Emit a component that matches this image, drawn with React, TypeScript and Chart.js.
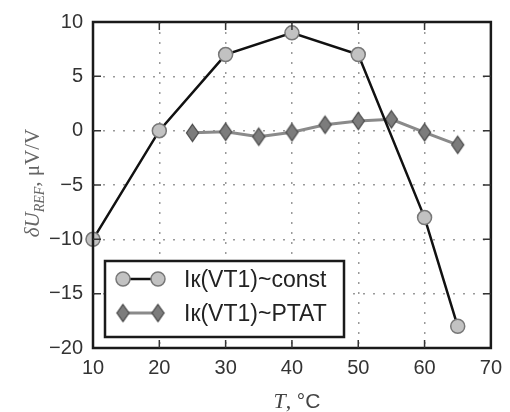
import React, { useEffect, useRef } from "react";
import { Chart, registerables } from "chart.js";

Chart.register(...registerables);

// ---- data ----
const constTemps = [10, 20, 30, 40, 50, 60, 65];
const constValues = [-10, 0, 7, 9, 7, -8, -18];
const ptatTemps = [25, 30, 35, 40, 45, 50, 55, 60, 65];
const ptatValues = [-0.2, -0.1, -0.55, -0.15, 0.55, 0.9, 1.05, -0.15, -1.3];
const xTickValues = [10, 20, 30, 40, 50, 60, 70];
const yTickValues = [-20, -15, -10, -5, 0, 5, 10];
const seriesLabels = ["Iк(VT1)~const", "Iк(VT1)~PTAT"];

const SANS = '"Liberation Sans", Arial, sans-serif';
const SERIF = '"Liberation Serif", "Times New Roman", serif';

const CIRCLE_FILL = "#c2c2c2";
const CIRCLE_EDGE = "#777";
const DIAMOND_FILL = "#7c7c7c";
const DIAMOND_EDGE = "#4c4c4c";

function makeDiamond(w: number, h: number, fill: string, stroke: string, lw: number) {
  const c = document.createElement("canvas");
  c.width = Math.ceil(w + lw * 2 + 2);
  c.height = Math.ceil(h + lw * 2 + 2);
  const ctx = c.getContext("2d")!;
  const cx = c.width / 2;
  const cy = c.height / 2;
  ctx.beginPath();
  ctx.moveTo(cx, cy - h / 2);
  ctx.lineTo(cx + w / 2, cy);
  ctx.lineTo(cx, cy + h / 2);
  ctx.lineTo(cx - w / 2, cy);
  ctx.closePath();
  ctx.fillStyle = fill;
  ctx.fill();
  ctx.lineWidth = lw;
  ctx.strokeStyle = stroke;
  ctx.stroke();
  return c;
}

const fmt = (v: number | string) => String(v).replace("-", "\u2212");

export default function App() {
  const ref = useRef<HTMLCanvasElement>(null);

  useEffect(() => {
    const diamond = makeDiamond(12, 17, DIAMOND_FILL, DIAMOND_EDGE, 1.3);

    const framePlugin = {
      id: "frameAndExtras",
      afterDraw(chart: any) {
        const ctx = chart.ctx as CanvasRenderingContext2D;
        const { left, right, top, bottom } = chart.chartArea;
        const xs = chart.scales.x;
        const ys = chart.scales.y;

        // legend
        ctx.save();
        const lx = 105, ly = 261, lw = 239, lh = 76;
        ctx.fillStyle = "#fff";
        ctx.fillRect(lx, ly, lw, lh);
        ctx.lineWidth = 2.5;
        ctx.strokeStyle = "#1a1a1a";
        ctx.strokeRect(lx, ly, lw, lh);
        const rows = [279, 313];
        const sx1 = 123, sx2 = 158;
        // row 1
        ctx.beginPath();
        ctx.moveTo(sx1, rows[0]);
        ctx.lineTo(sx2, rows[0]);
        ctx.strokeStyle = "#111";
        ctx.lineWidth = 2.5;
        ctx.stroke();
        [sx1, sx2].forEach((px) => {
          ctx.beginPath();
          ctx.arc(px, rows[0], 7, 0, Math.PI * 2);
          ctx.fillStyle = CIRCLE_FILL;
          ctx.fill();
          ctx.lineWidth = 1.5;
          ctx.strokeStyle = CIRCLE_EDGE;
          ctx.stroke();
        });
        // row 2
        ctx.beginPath();
        ctx.moveTo(sx1, rows[1]);
        ctx.lineTo(sx2, rows[1]);
        ctx.strokeStyle = "#8a8a8a";
        ctx.lineWidth = 3;
        ctx.stroke();
        [sx1, sx2].forEach((px) => {
          ctx.drawImage(diamond, px - diamond.width / 2, rows[1] - diamond.height / 2);
        });
        ctx.fillStyle = "#222";
        ctx.font = `23px ${SANS}`;
        ctx.textAlign = "left";
        ctx.textBaseline = "alphabetic";
        ctx.fillText(seriesLabels[0], 184, rows[0] + 8);
        ctx.fillText(seriesLabels[1], 184, rows[1] + 8);
        ctx.restore();

        // frame
        ctx.save();
        ctx.lineWidth = 2.5;
        ctx.strokeStyle = "#1a1a1a";
        ctx.strokeRect(left, top, right - left, bottom - top);
        // inward ticks
        ctx.lineWidth = 1.5;
        ctx.strokeStyle = "#333";
        const tl = 8;
        xTickValues.slice(1, -1).forEach((v) => {
          const px = xs.getPixelForValue(v);
          ctx.beginPath();
          ctx.moveTo(px, bottom);
          ctx.lineTo(px, bottom - tl);
          ctx.moveTo(px, top);
          ctx.lineTo(px, top + tl);
          ctx.stroke();
        });
        yTickValues.slice(1, -1).forEach((v) => {
          const py = ys.getPixelForValue(v);
          ctx.beginPath();
          ctx.moveTo(left, py);
          ctx.lineTo(left + tl, py);
          ctx.moveTo(right, py);
          ctx.lineTo(right - tl, py);
          ctx.stroke();
        });
        ctx.restore();

        // y title
        ctx.save();
        ctx.translate(39, 183);
        ctx.rotate(-Math.PI / 2);
        const parts = [
          { t: "δU", f: `italic 21px ${SERIF}`, dy: 0 },
          { t: "REF", f: `italic 14px ${SERIF}`, dy: 5 },
          { t: ", μV/V", f: `21px ${SERIF}`, dy: 0 },
        ];
        let total = 0;
        parts.forEach((p) => {
          ctx.font = p.f;
          total += ctx.measureText(p.t).width;
        });
        let cx = -total / 2;
        ctx.fillStyle = "#666";
        ctx.textBaseline = "alphabetic";
        ctx.textAlign = "left";
        parts.forEach((p) => {
          ctx.font = p.f;
          ctx.fillText(p.t, cx, p.dy);
          cx += ctx.measureText(p.t).width;
        });
        ctx.restore();

        // x title
        ctx.save();
        const xparts = [
          { t: "T", f: `italic 22px ${SERIF}` },
          { t: ", ", f: `22px ${SERIF}` },
          { t: "°C", f: `21px ${SANS}` },
        ];
        let xt = 0;
        xparts.forEach((p) => {
          ctx.font = p.f;
          xt += ctx.measureText(p.t).width;
        });
        let xx = 297 - xt / 2;
        ctx.fillStyle = "#444";
        ctx.textBaseline = "alphabetic";
        ctx.textAlign = "left";
        xparts.forEach((p) => {
          ctx.font = p.f;
          ctx.fillText(p.t, xx, 408);
          xx += ctx.measureText(p.t).width;
        });
        ctx.restore();
      },
    };

    const chart = new Chart(ref.current!, {
      type: "line",
      data: {
        datasets: [
          {
            label: seriesLabels[0],
            data: constTemps.map((t, i) => ({ x: t, y: constValues[i] })),
            borderColor: "#111",
            borderWidth: 2.5,
            pointStyle: "circle",
            pointRadius: 7,
            pointBackgroundColor: CIRCLE_FILL,
            pointBorderColor: CIRCLE_EDGE,
            pointBorderWidth: 1.5,
            tension: 0,
            clip: false as any,
          },
          {
            label: seriesLabels[1],
            data: ptatTemps.map((t, i) => ({ x: t, y: ptatValues[i] })),
            borderColor: "#8a8a8a",
            borderWidth: 3,
            pointStyle: diamond as any,
            pointRadius: 8,
            tension: 0,
            clip: false as any,
          },
        ],
      },
      options: {
        responsive: false,
        animation: false,
        devicePixelRatio: 1,
        layout: { padding: { top: 19, right: 13, left: 0, bottom: 0 } },
        plugins: {
          legend: { display: false },
          tooltip: { enabled: false },
        },
        scales: {
          x: {
            type: "linear",
            min: 10,
            max: 70,
            afterBuildTicks: (s: any) => {
              s.ticks = xTickValues.map((v) => ({ value: v }));
            },
            afterFit: (s: any) => {
              s.height = 64;
            },
            grid: { color: "#9a9a9a", lineWidth: 1.5, drawTicks: false },
            border: { display: false, dash: [2, 8] },
            ticks: {
              padding: 8,
              color: "#333",
              font: { family: SANS, size: 20 },
              callback: (v: any) => fmt(v),
              maxRotation: 0,
            },
          },
          y: {
            type: "linear",
            min: -20,
            max: 10,
            afterBuildTicks: (s: any) => {
              s.ticks = yTickValues.map((v) => ({ value: v }));
            },
            afterFit: (s: any) => {
              s.width = 93;
            },
            grid: { color: "#9a9a9a", lineWidth: 1.5, drawTicks: false },
            border: { display: false, dash: [2, 8] },
            ticks: {
              padding: 10,
              color: "#333",
              font: { family: SANS, size: 20 },
              callback: (v: any) => fmt(v),
            },
          },
        },
      },
      plugins: [framePlugin],
    } as any);
    return () => chart.destroy();
  }, []);

  return (
    <div style={{ position: "absolute", left: 0, top: 0, width: 510, height: 412, background: "#fff" }}>
      <canvas ref={ref} width={510} height={412} style={{ display: "block", width: 510, height: 412 }} />
    </div>
  );
}
